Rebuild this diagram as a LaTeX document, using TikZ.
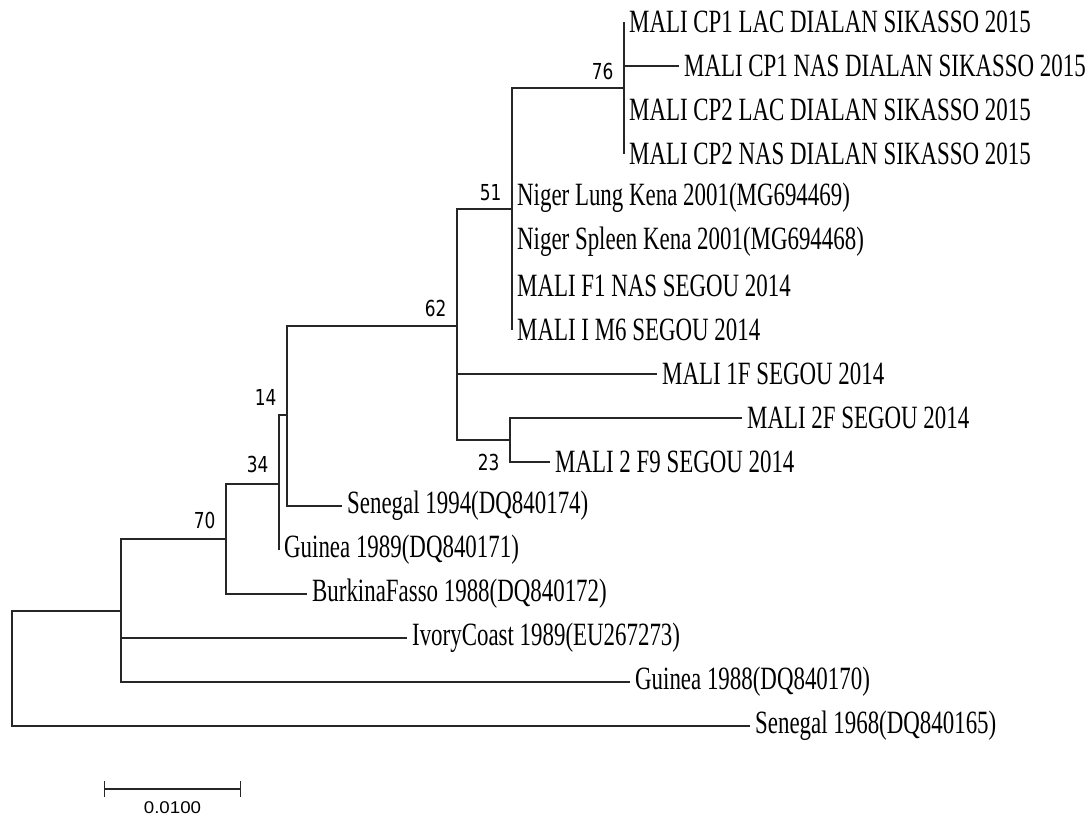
\documentclass[tikz,border=0pt]{standalone}
\usepackage{fontspec}
\setmainfont{Liberation Serif}[FakeStretch=0.705]
\newfontfamily\bootfont{DejaVu Sans}[FakeStretch=0.77]
\newfontfamily\barfont{Liberation Sans}[FakeStretch=1.1]
\usetikzlibrary{arrows.meta,positioning}

\begin{document}
\begin{tikzpicture}[x=1pt,y=-1pt,line width=1.3pt,draw=black!85,
    taxon/.style={anchor=west,inner xsep=4.5pt,inner ysep=0pt,font=\fontsize{32.5}{33}\selectfont},
    boot/.style={anchor=south east,inner sep=0pt,font=\bootfont\fontsize{22}{22}\selectfont},
    elbow/.style={to path={|- (\tikztotarget)}}]
\useasboundingbox (0,0) rectangle (1092,816);
% internal nodes
\coordinate (root) at (12,668);
\coordinate (nA)   at (121,611);
\coordinate (n70)  at (226,539);
\coordinate (n34)  at (279,484);
\coordinate (n14)  at (287,415);
\coordinate (n62)  at (457,326);
\coordinate (n51)  at (512,209);
\coordinate (n76)  at (624,88);
\coordinate (n23)  at (510,440);
% taxa
\node[taxon] (cp1lac) at (624,22)  {MALI CP1 LAC DIALAN SIKASSO 2015};
\node[taxon] (cp1nas) at (679,66)  {MALI CP1 NAS DIALAN SIKASSO 2015};
\node[taxon] (cp2lac) at (624,110) {MALI CP2 LAC DIALAN SIKASSO 2015};
\node[taxon] (cp2nas) at (624,154) {MALI CP2 NAS DIALAN SIKASSO 2015};
\node[taxon] (lung)   at (512,198) {Niger Lung Kena 2001(MG694469)};
\node[taxon] (spleen) at (512,242) {Niger Spleen Kena 2001(MG694468)};
\node[taxon] (f1nas)  at (512,286) {MALI F1 NAS SEGOU 2014};
\node[taxon] (im6)    at (512,330) {MALI I M6 SEGOU 2014};
\node[taxon] (m1f)    at (657,374) {MALI 1F SEGOU 2014};
\node[taxon] (m2f)    at (742,418) {MALI 2F SEGOU 2014};
\node[taxon] (m2f9)   at (550,462) {MALI 2 F9 SEGOU 2014};
\node[taxon] (sen94)  at (342,506) {Senegal 1994(DQ840174)};
\node[taxon] (gui89)  at (279,550) {Guinea 1989(DQ840171)};
\node[taxon] (burk)   at (307,594) {BurkinaFasso 1988(DQ840172)};
\node[taxon] (ivory)  at (407,638) {IvoryCoast 1989(EU267273)};
\node[taxon] (gui88)  at (630,682) {Guinea 1988(DQ840170)};
\node[taxon] (sen68)  at (750,726) {Senegal 1968(DQ840165)};
% branches
\path[draw]
  (root) edge[elbow] (nA) edge[elbow] (sen68.west)
  (nA)   edge[elbow] (n70) edge[elbow] (ivory.west) edge[elbow] (gui88.west)
  (n70)  edge[elbow] (n34) edge[elbow] (burk.west)
  (n34)  edge[elbow] (n14) edge[elbow] (gui89.west)
  (n14)  edge[elbow] (n62) edge[elbow] (sen94.west)
  (n62)  edge[elbow] (n51) edge[elbow] (m1f.west) edge[elbow] (n23)
  (n51)  edge[elbow] (n76) edge[elbow] (lung.west) edge[elbow] (spleen.west)
         edge[elbow] (f1nas.west) edge[elbow] (im6.west)
  (n76)  edge[elbow] (cp1lac.west) edge[elbow] (cp1nas.west)
         edge[elbow] (cp2lac.west) edge[elbow] (cp2nas.west)
  (n23)  edge[elbow] (m2f.west) edge[elbow] (m2f9.west);
% bootstrap values
\node[boot] (b76) at ([xshift=-10pt,yshift=8pt]n76) {76};
\node[boot] (b51) at ([xshift=-10pt,yshift=8pt]n51) {51};
\node[boot] (b62) at ([xshift=-10pt,yshift=9pt]n62) {62};
\node[boot] (b14) at ([xshift=-10pt,yshift=9pt]n14) {14};
\node[boot] (b34) at ([xshift=-10pt,yshift=11pt]n34) {34};
\node[boot] (b70) at ([xshift=-10pt,yshift=10pt]n70) {70};
\node[boot,anchor=east] (b23) at ([xshift=-10pt]n23 |- m2f9.west) {23};
% scale bar
\coordinate (sb0) at (104,789);
\coordinate (sb1) at (241,789);
\draw[{Bar[width=16pt]}-{Bar[width=16pt]}] (sb0) -- (sb1)
  node[midway,below=12pt,inner sep=0pt,font=\barfont\fontsize{17}{17}\selectfont] (sblab) {0.0100};
\end{tikzpicture}
\end{document}
